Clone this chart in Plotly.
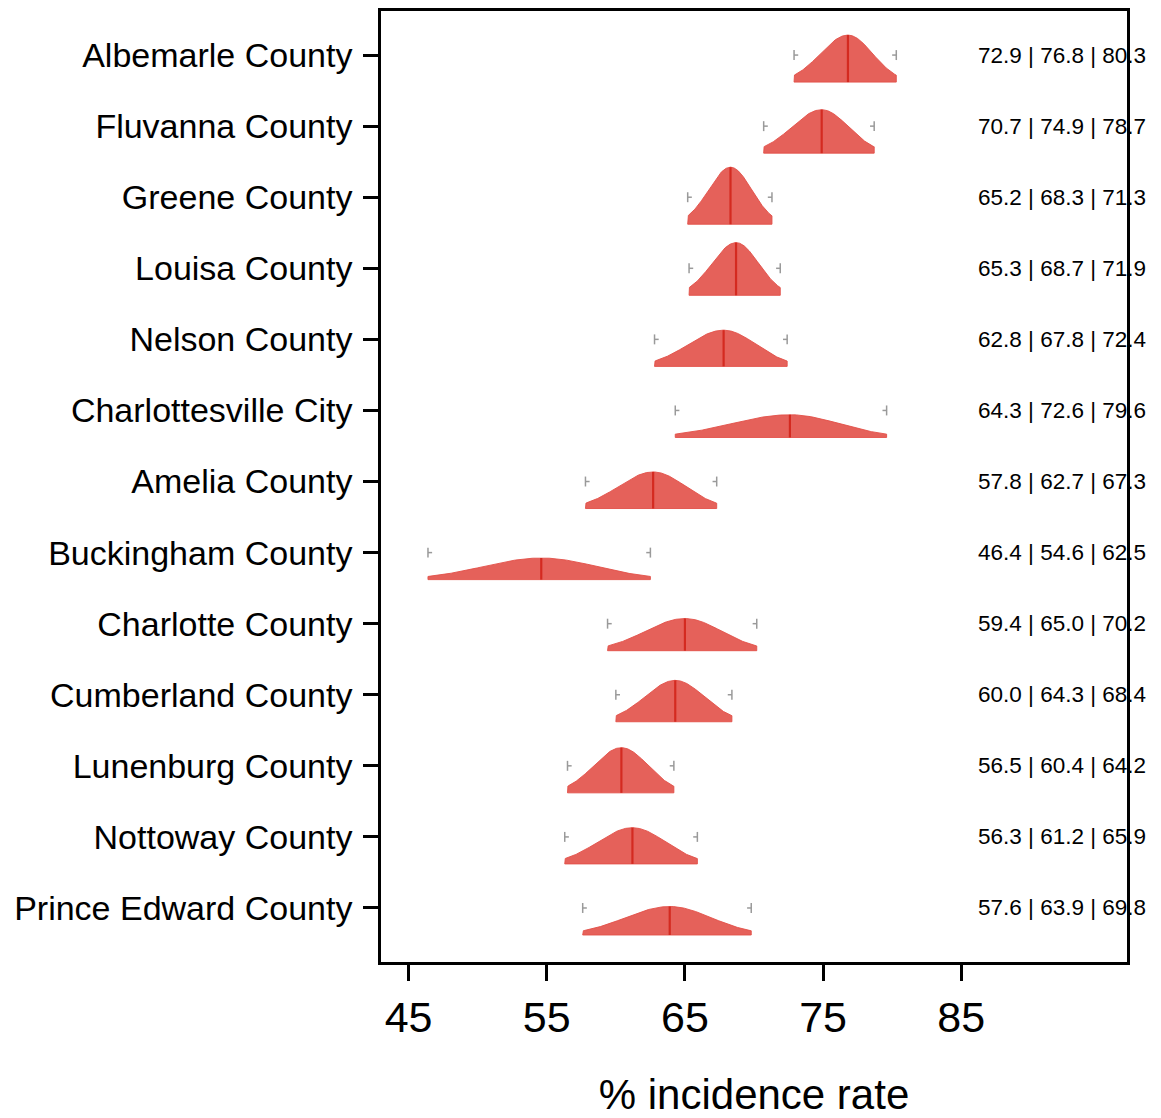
import numpy as np
import plotly.graph_objects as go

counties = ["Albemarle County", "Fluvanna County", "Greene County", "Louisa County",
            "Nelson County", "Charlottesville City", "Amelia County", "Buckingham County",
            "Charlotte County", "Cumberland County", "Lunenburg County", "Nottoway County",
            "Prince Edward County"]
lower = [72.9, 70.7, 65.2, 65.3, 62.8, 64.3, 57.8, 46.4, 59.4, 60.0, 56.5, 56.3, 57.6]
median = [76.8, 74.9, 68.3, 68.7, 67.8, 72.6, 62.7, 54.6, 65.0, 64.3, 60.4, 61.2, 63.9]
upper = [80.3, 78.7, 71.3, 71.9, 72.4, 79.6, 67.3, 62.5, 70.2, 68.4, 64.2, 65.9, 69.8]
x_ticks = [45, 55, 65, 75, 85]

Z = 1.96           # interval assumed to be 95%
K = 3.13           # density -> y-unit scale
BASE_OFF = 0.38    # baseline offset below tick
FILL = "rgba(226,80,72,0.9)"
MED = "#d42a20"
GRAY = "#9a9a9a"
FONT = "Liberation Sans, Arial"

n = len(counties)
pos = [n - 1 - i for i in range(n)]

fig = go.Figure()
for i in range(n):
    lo, md, hi, p = lower[i], median[i], upper[i], pos[i]
    s1 = (md - lo) / Z
    s2 = (hi - md) / Z
    peak = 2.0 / (np.sqrt(2 * np.pi) * (s1 + s2))
    xs = np.linspace(lo, hi, 240)
    dens = np.where(xs < md, np.exp(-0.5 * ((xs - md) / s1) ** 2),
                    np.exp(-0.5 * ((xs - md) / s2) ** 2)) * peak
    base = p - BASE_OFF
    ys = base + K * dens
    fx = np.concatenate([[lo], xs, [hi, lo]])
    fy = np.concatenate([[base], ys, [base, base]])
    fig.add_trace(go.Scatter(x=fx, y=fy, mode="lines", fill="toself",
                             fillcolor=FILL, line=dict(color=FILL, width=1),
                             hoverinfo="skip", showlegend=False))
    fig.add_trace(go.Scatter(x=[md, md], y=[base, base + K * peak], mode="lines",
                             line=dict(color=MED, width=2.2),
                             hoverinfo="skip", showlegend=False))
    h = 0.07
    stub = 0.3
    fig.add_trace(go.Scatter(
        x=[lo, lo, None, lo, lo + stub, None, hi, hi, None, hi, hi - stub],
        y=[p - h, p + h, None, p, p, None, p - h, p + h, None, p, p],
        mode="lines", line=dict(color=GRAY, width=1.5),
        hoverinfo="skip", showlegend=False))
    fig.add_annotation(x=86.1, y=p, xref="x", yref="y", xanchor="left", yanchor="middle",
                       text=f"{lo:.1f} | {md:.1f} | {hi:.1f}", showarrow=False,
                       font=dict(size=22.5, color="black", family=FONT))

fig.update_layout(
    width=1153, height=1110,
    margin=dict(l=373, r=34, t=0, b=156),
    paper_bgcolor="white", plot_bgcolor="white",
    font=dict(family=FONT, color="black"),
)
fig.update_xaxes(range=[43, 97], tickvals=x_ticks, ticktext=[str(v) for v in x_ticks],
                 ticks="outside", ticklen=16, tickwidth=2.5, tickcolor="black",
                 showline=True, linewidth=2.5, linecolor="black", mirror=True,
                 showgrid=False, zeroline=False, tickfont=dict(size=43),
                 title=dict(text="% incidence rate", font=dict(size=42), standoff=44))
fig.update_yaxes(range=[-0.76, 12.62], tickvals=pos, ticktext=counties,
                 ticks="outside", ticklen=15, tickwidth=2.5, tickcolor="black",
                 showline=True, linewidth=2.5, linecolor="black", mirror=True,
                 showgrid=False, zeroline=False, tickfont=dict(size=34),
                 ticklabelstandoff=4)

fig.write_html("out.html")
